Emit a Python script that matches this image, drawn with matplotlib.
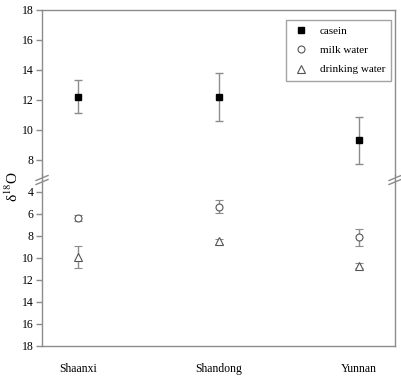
import matplotlib
matplotlib.use("Agg")
import matplotlib.pyplot as plt
from matplotlib.lines import Line2D

plt.rcParams['font.family'] = ['Liberation Serif', 'DejaVu Serif']
plt.rcParams['mathtext.fontset'] = 'stix'

regions = ["Shaanxi", "Shandong", "Yunnan"]
casein = [12.2, 12.2, 9.3]
casein_err = [1.1, 1.6, 1.55]
milk_water = [6.4, 5.35, 8.15]
milk_water_err = [0.3, 0.6, 0.75]
drinking_water = [9.9, 8.5, 10.7]
drinking_water_err = [1.0, 0.25, 0.25]

x = [1, 2, 3]
W, H = 401, 379
GREY = "#8c8c8c"

fig = plt.figure(figsize=(W / 100, H / 100), dpi=100)
fig.patch.set_facecolor("white")

left = 42 / W
width = (395 - 42) / W
ax_top = fig.add_axes([left, 1 - 175 / H, width, 165 / H])
ax_bot = fig.add_axes([left, 1 - 346 / H, width, 165.3 / H])

err_kw = dict(ecolor=GREY, elinewidth=1.0, capsize=3, capthick=1.0, linestyle='none')

ax_top.errorbar(x, casein, yerr=casein_err, marker='s', markersize=5,
                markerfacecolor='black', markeredgecolor='black', **err_kw)
ax_bot.errorbar(x, milk_water, yerr=milk_water_err, marker='o', markersize=5,
                markerfacecolor='white', markeredgecolor='#555555', markeredgewidth=0.8, **err_kw)
ax_bot.errorbar(x, drinking_water, yerr=drinking_water_err, marker='^', markersize=6,
                markerfacecolor='white', markeredgecolor='#555555', markeredgewidth=0.8, **err_kw)

ax_top.set_ylim(7, 18)
ax_top.set_yticks([8, 10, 12, 14, 16, 18])
ax_bot.set_ylim(18, 3)
ax_bot.set_yticks([4, 6, 8, 10, 12, 14, 16, 18])

for ax in (ax_top, ax_bot):
    ax.set_xlim(0.745, 3.255)
    for s in ax.spines.values():
        s.set_color(GREY)
        s.set_linewidth(1.0)
    ax.tick_params(axis='y', direction='out', length=4, width=1, color=GREY,
                   labelsize=8.5, pad=2)
    ax.set_facecolor('none')

ax_top.spines['bottom'].set_visible(False)
ax_bot.spines['top'].set_visible(False)
ax_top.set_xticks([])
ax_bot.set_xticks(x)
ax_bot.set_xticklabels(regions, fontsize=8.5)
ax_bot.tick_params(axis='x', length=0, pad=12)

# break marks on both spines
for xb in (42, 395):
    for dy in (0, 4):
        yb = 178 + dy
        fig.add_artist(Line2D([(xb - 6) / W, (xb + 6) / W],
                              [1 - (yb + 2.5) / H, 1 - (yb - 2.5) / H],
                              color=GREY, linewidth=1.0))
    fig.add_artist(Line2D([xb / W, xb / W], [1 - 181.5 / H, 1 - 174.5 / H],
                          color=GREY, linewidth=1.0))

fig.text(12 / W, 1 - 186 / H, r'δ$^{\mathrm{18}}$O', rotation=90, fontsize=11,
         ha='center', va='center')

handles = [
    Line2D([], [], marker='s', linestyle='none', markersize=5,
           markerfacecolor='black', markeredgecolor='black'),
    Line2D([], [], marker='o', linestyle='none', markersize=5,
           markerfacecolor='white', markeredgecolor='#555555', markeredgewidth=0.8),
    Line2D([], [], marker='^', linestyle='none', markersize=6,
           markerfacecolor='white', markeredgecolor='#555555', markeredgewidth=0.8),
]
leg = ax_top.legend(handles, ["casein", "milk water", "drinking water"],
                    loc='upper right', bbox_to_anchor=(0.989, 0.939),
                    borderaxespad=0, fontsize=8, frameon=True, fancybox=False,
                    handlelength=1.6, handletextpad=0.9, labelspacing=0.85,
                    borderpad=0.55)
leg.get_frame().set_edgecolor(GREY)
leg.get_frame().set_linewidth(1.0)

fig.savefig("out.png", dpi=100)
